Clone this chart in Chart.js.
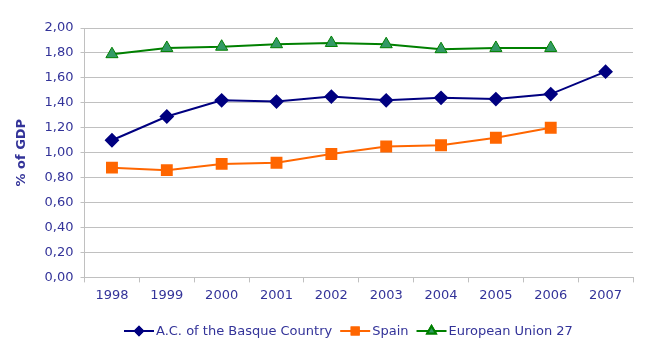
<!DOCTYPE html>
<html>
<head>
<meta charset="utf-8">
<script src="https://cdn.jsdelivr.net/npm/chart.js@4"></script>
<style>
  html, body { margin: 0; padding: 0; background: #fff; }
  #wrap { width: 649px; height: 352px; }
</style>
</head>
<body>
<div id="wrap"><canvas id="rdChart" width="649" height="352"></canvas></div>
<script>
// Years on the category axis
const years = ['1998', '1999', '2000', '2001', '2002', '2003', '2004', '2005', '2006', '2007'];

// R&D expenditure, % of GDP
const basqueCountry = [1.10, 1.29, 1.42, 1.41, 1.45, 1.42, 1.44, 1.43, 1.47, 1.65];
const spain = [0.88, 0.86, 0.91, 0.92, 0.99, 1.05, 1.06, 1.12, 1.20, null];
const eu27 = [1.79, 1.84, 1.85, 1.87, 1.88, 1.87, 1.83, 1.84, 1.84, null];

const textColor = '#333399';
const gridColor = '#c0c0c0';
const fontFamily = '"DejaVu Sans", Verdana, sans-serif';

// Excel-style legend: short line with the marker in the middle, under the axis
const lineLegend = {
  id: 'lineLegend',
  afterDraw(chart) {
    const ctx = chart.ctx;
    const y = 331;
    const lineW = 30;
    const gap = 8;
    ctx.save();
    ctx.font = '13px ' + fontFamily;
    ctx.textBaseline = 'middle';
    let x = 124;
    chart.data.datasets.forEach(ds => {
      const w = ctx.measureText(ds.label).width;
      ctx.strokeStyle = ds.borderColor;
      ctx.lineWidth = 2;
      ctx.beginPath();
      ctx.moveTo(x, y);
      ctx.lineTo(x + lineW, y);
      ctx.stroke();
      Chart.helpers.drawPoint(ctx, {
        pointStyle: ds.pointStyle,
        radius: ds.pointRadius - 2,
        borderWidth: 1
      }, x + lineW / 2, y);
      ctx.fillStyle = ds.pointBackgroundColor;
      ctx.strokeStyle = ds.pointBorderColor;
      ctx.fill();
      ctx.stroke();
      ctx.fillStyle = textColor;
      ctx.fillText(ds.label, x + lineW + 2, y + 1);
      x += lineW + 2 + w + gap;
    });
    ctx.restore();
  }
};

new Chart(document.getElementById('rdChart'), {
  type: 'line',
  data: {
    labels: years,
    datasets: [
      {
        label: 'A.C. of the Basque Country',
        data: basqueCountry,
        borderColor: '#000080',
        backgroundColor: '#000080',
        pointBackgroundColor: '#000080',
        pointBorderColor: '#000080',
        pointStyle: 'rectRot',
        pointRadius: 6,
        borderWidth: 2,
        tension: 0
      },
      {
        label: 'Spain',
        data: spain,
        borderColor: '#ff6600',
        backgroundColor: '#ff6600',
        pointBackgroundColor: '#ff6600',
        pointBorderColor: '#ff6600',
        pointStyle: 'rect',
        pointRadius: 7,
        borderWidth: 2,
        tension: 0
      },
      {
        label: 'European Union 27',
        data: eu27,
        borderColor: '#008000',
        backgroundColor: '#339966',
        pointBackgroundColor: '#339966',
        pointBorderColor: '#008000',
        pointStyle: 'triangle',
        pointRadius: 7,
        pointBorderWidth: 1,
        borderWidth: 2,
        tension: 0
      }
    ]
  },
  options: {
    responsive: false,
    animation: false,
    layout: { padding: { left: 14, right: 16, top: 28, bottom: 44 } },
    plugins: {
      legend: { display: false },
      tooltip: { enabled: false }
    },
    scales: {
      x: {
        offset: true,
        grid: { offset: true, drawOnChartArea: false, tickLength: 5, color: gridColor },
        border: { color: gridColor },
        ticks: { color: textColor, font: { family: fontFamily, size: 13 }, padding: 5 }
      },
      y: {
        min: 0,
        max: 2,
        grid: { color: gridColor, tickLength: 4 },
        border: { color: gridColor },
        ticks: {
          stepSize: 0.2,
          color: textColor,
          font: { family: fontFamily, size: 13 },
          padding: 7,
          callback: v => v.toFixed(2).replace('.', ',')
        },
        title: {
          display: true,
          text: '% of GDP',
          color: textColor,
          font: { family: fontFamily, size: 13, weight: 'bold' },
          padding: { top: 0, bottom: 8 }
        }
      }
    }
  },
  plugins: [lineLegend]
});
</script>
</body>
</html>
